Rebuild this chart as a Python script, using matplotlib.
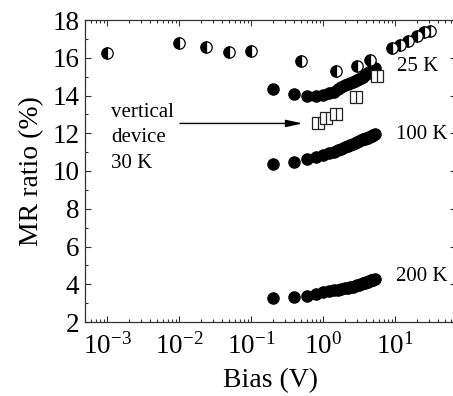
import matplotlib
matplotlib.use('Agg')
import matplotlib.pyplot as plt
from matplotlib.ticker import LogLocator, MultipleLocator

plt.rcParams['font.family'] = ['Liberation Serif', 'DejaVu Serif']
plt.rcParams['mathtext.fontset'] = 'custom'
plt.rcParams['mathtext.rm'] = 'Liberation Serif'
plt.rcParams['mathtext.it'] = 'Liberation Serif:italic'
plt.rcParams['axes.unicode_minus'] = False

# bias sweep shared by the three filled-circle curves (V)
bias_sweep = [0.2, 0.4, 0.6, 0.8, 1.0, 1.2, 1.4, 1.6, 1.8, 2.0, 2.2, 2.4, 2.6,
              2.8, 3.0, 3.2, 3.4, 3.6, 3.8, 4.0, 4.2, 4.4, 4.6, 4.8, 5.0, 5.2]
mr_25k = [14.35, 14.08, 13.99, 13.99, 14.05, 14.12, 14.2, 14.35, 14.45, 14.55,
          14.6, 14.65, 14.72, 14.77, 14.83, 14.88, 14.94, 15.0, 15.06, 15.12,
          15.17, 15.23, 15.28, 15.33, 15.39, 15.44]
mr_100k = [10.38, 10.5, 10.65, 10.75, 10.85, 10.95, 11.02, 11.1, 11.18, 11.25,
           11.33, 11.4, 11.45, 11.5, 11.55, 11.59, 11.63, 11.67, 11.7, 11.73,
           11.76, 11.8, 11.84, 11.88, 11.91, 11.94]
mr_200k = [3.28, 3.3, 3.39, 3.47, 3.58, 3.64, 3.68, 3.72, 3.75, 3.78, 3.81,
           3.84, 3.87, 3.9, 3.94, 3.98, 4.02, 4.05, 4.08, 4.11, 4.14, 4.17,
           4.2, 4.22, 4.24, 4.26]

# half filled circles
bias_half = [0.001, 0.01, 0.0235, 0.05, 0.1, 0.5, 1.5, 3.0, 4.5,
             9.0, 11.7, 15.3, 20.0, 25.0, 30.6]
mr_half = [16.27, 16.8, 16.59, 16.29, 16.37, 15.83, 15.31, 15.58, 15.88,
           16.5, 16.68, 16.9, 17.15, 17.38, 17.43]

# vertical device, 30 K
bias_vert = [0.86, 1.08, 1.52, 2.9, 5.66]
mr_vert = [12.53, 12.8, 13.02, 13.94, 15.05]

fig = plt.figure(figsize=(4.53, 3.96), dpi=100)
ax = fig.add_axes([85/453, 1-322/396, (456-85)/453, (322-20)/396])
ax.set_xscale('log')

ms = 8.2
for mr in (mr_25k, mr_100k, mr_200k):
    ax.plot(bias_sweep, mr, 'o', ms=ms, mfc='black', mec='black', mew=0.8)
ax.plot(bias_half, mr_half, 'o', ms=ms, fillstyle='left', mfc='black',
        markerfacecoloralt='white', mec='black', mew=0.9)
ax.plot(bias_vert, mr_vert, 's', ms=8.0, mfc='white', mec='#222222', mew=0.9)
ax.plot(bias_vert, mr_vert, '|', ms=8.0, mec='#222222', mew=0.9)

ax.set_xlim(4.95e-4, 70)
ax.set_ylim(2, 18)
ax.yaxis.set_major_locator(MultipleLocator(2))
ax.yaxis.set_minor_locator(MultipleLocator(1))
ax.xaxis.set_major_locator(LogLocator(base=10, numticks=10))
ax.xaxis.set_minor_locator(LogLocator(base=10, subs=range(2, 10), numticks=10))

ax.tick_params(which='both', direction='in', top=True, right=True,
               labelsize=19.5, width=0.8, color='#333333')
ax.tick_params(which='major', length=4.5, pad=4)
ax.tick_params(which='minor', length=2.5)
ax.tick_params(axis='x', which='major', pad=8)
for s in ax.spines.values():
    s.set_linewidth(0.9)
    s.set_color('#333333')

ax.set_xlabel('Bias (V)', fontsize=20, labelpad=6)
ax.set_ylabel('MR ratio (%)', fontsize=20, labelpad=6)

ax.text(0.00115, 13.12, 'vertical', fontsize=15, va='center')
ax.text(0.00115, 11.8, 'device', fontsize=15, va='center')
ax.text(0.00115, 10.4, '30 K', fontsize=15, va='center')
ax.annotate('', xy=(0.52, 12.52), xytext=(0.0103, 12.52),
            arrowprops=dict(arrowstyle='-|>,head_length=1.0,head_width=0.22',
                            color='black', lw=1.0, shrinkA=0, shrinkB=0))
ax.text(10.7, 15.55, '25 K', fontsize=15, va='center')
ax.text(10.3, 11.95, '100 K', fontsize=15, va='center')
ax.text(10.3, 4.4, '200 K', fontsize=15, va='center')

fig.savefig('out.png', dpi=100)
